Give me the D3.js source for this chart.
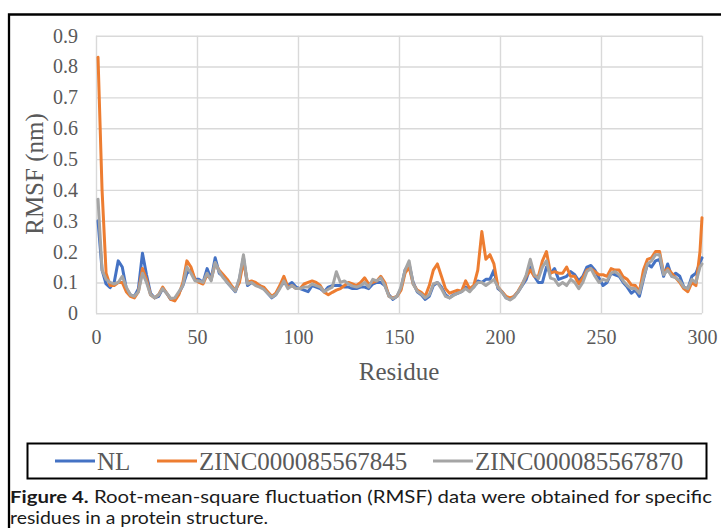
<!DOCTYPE html>
<html>
<head>
<meta charset="utf-8">
<script src="https://cdn.jsdelivr.net/npm/d3@7"></script>
<style>
  html, body { margin: 0; padding: 0; background: #fff; }
  svg { display: block; }
</style>
</head>
<body>
<svg id="chart" width="721" height="528"></svg>
<script>
// ---- data ----
const seriesNames = ["NL", "ZINC000085567845", "ZINC000085567870"];
const seriesColors = ["#4472C4", "#ED7D31", "#A5A5A5"];
const residues = d3.range(1, 300, 2).concat([300]);

const nl = [
  0.30,0.14,0.095,0.083,0.10,0.17,0.15,0.08,0.06,0.055,0.08,0.195,0.125,0.065,0.05,0.055,0.08,0.065,0.045,0.045,0.065,0.09,0.13,0.14,0.11,
  0.11,0.10,0.145,0.11,0.18,0.13,0.12,0.10,0.085,0.07,0.11,0.18,0.09,0.10,0.095,0.09,0.08,0.065,0.05,0.06,0.085,0.10,0.09,0.10,0.085,
  0.08,0.075,0.07,0.09,0.085,0.08,0.07,0.085,0.09,0.09,0.09,0.085,0.085,0.08,0.08,0.085,0.085,0.08,0.095,0.10,0.10,0.09,0.06,0.045,0.055,
  0.08,0.14,0.16,0.10,0.07,0.06,0.045,0.055,0.09,0.10,0.085,0.06,0.05,0.06,0.065,0.07,0.085,0.075,0.085,0.105,0.10,0.11,0.11,0.14,0.08,
  0.07,0.05,0.045,0.055,0.07,0.09,0.11,0.15,0.12,0.10,0.10,0.15,0.13,0.145,0.11,0.115,0.12,0.135,0.125,0.105,0.12,0.15,0.155,0.14,0.115,
  0.09,0.10,0.13,0.125,0.12,0.10,0.085,0.065,0.075,0.055,0.11,0.16,0.15,0.17,0.175,0.12,0.16,0.12,0.13,0.12,0.085,0.08,0.12,0.13,0.165,
  0.18
];
const zinc845 = [
  0.83,0.40,0.13,0.09,0.09,0.10,0.10,0.07,0.055,0.05,0.07,0.145,0.11,0.06,0.05,0.06,0.085,0.065,0.045,0.04,0.06,0.10,0.17,0.15,0.11,
  0.10,0.095,0.125,0.11,0.16,0.14,0.125,0.11,0.09,0.075,0.10,0.17,0.10,0.105,0.10,0.09,0.085,0.07,0.055,0.065,0.09,0.12,0.085,0.09,0.08,
  0.08,0.095,0.10,0.105,0.10,0.09,0.068,0.06,0.068,0.075,0.08,0.09,0.10,0.095,0.09,0.10,0.115,0.095,0.10,0.105,0.12,0.10,0.055,0.05,0.055,
  0.075,0.13,0.15,0.095,0.075,0.068,0.055,0.09,0.14,0.16,0.12,0.08,0.065,0.07,0.075,0.072,0.105,0.08,0.09,0.14,0.265,0.175,0.19,0.16,0.085,
  0.07,0.055,0.05,0.055,0.072,0.095,0.12,0.14,0.12,0.12,0.17,0.20,0.13,0.135,0.13,0.13,0.15,0.12,0.12,0.095,0.115,0.14,0.145,0.135,0.125,
  0.125,0.12,0.145,0.14,0.14,0.118,0.11,0.092,0.09,0.07,0.14,0.175,0.18,0.20,0.20,0.13,0.145,0.13,0.115,0.10,0.08,0.07,0.10,0.09,0.20,
  0.31
];
const zinc870 = [
  0.37,0.14,0.11,0.10,0.095,0.10,0.12,0.085,0.06,0.055,0.07,0.13,0.10,0.06,0.05,0.06,0.08,0.065,0.048,0.05,0.07,0.09,0.15,0.13,0.105,
  0.105,0.10,0.13,0.105,0.165,0.135,0.115,0.10,0.085,0.072,0.115,0.19,0.095,0.10,0.09,0.085,0.078,0.065,0.052,0.06,0.08,0.105,0.08,0.09,0.08,
  0.08,0.085,0.085,0.095,0.09,0.085,0.07,0.078,0.085,0.135,0.10,0.105,0.095,0.088,0.085,0.09,0.10,0.085,0.11,0.105,0.115,0.09,0.055,0.048,0.055,
  0.085,0.14,0.17,0.095,0.072,0.062,0.05,0.06,0.095,0.10,0.08,0.055,0.05,0.058,0.065,0.07,0.08,0.07,0.085,0.10,0.10,0.09,0.10,0.11,0.085,
  0.068,0.05,0.043,0.052,0.07,0.092,0.125,0.175,0.125,0.112,0.15,0.17,0.114,0.11,0.09,0.10,0.09,0.11,0.10,0.08,0.10,0.135,0.145,0.12,0.10,
  0.11,0.105,0.13,0.135,0.125,0.105,0.09,0.08,0.08,0.065,0.115,0.16,0.17,0.19,0.19,0.125,0.14,0.12,0.115,0.105,0.085,0.08,0.11,0.10,0.15,
  0.16
];
const xTicks = [0, 50, 100, 150, 200, 250, 300];
const yTicks = [0, 0.1, 0.2, 0.3, 0.4, 0.5, 0.6, 0.7, 0.8, 0.9];
const xTitle = "Residue";
const yTitle = "RMSF (nm)";
const captionBold = "Figure 4.";
const captionLine1 = " Root-mean-square fluctuation (RMSF) data were obtained for specific";
const captionLine2 = "residues in a protein structure.";

// ---- drawing ----
const svg = d3.select("#chart");
const serif = "'Liberation Serif', 'Times New Roman', serif";
const sans = "'Lato', 'Noto Sans', sans-serif";

// outer frame (open at right/bottom like the cropped figure)
svg.append("path")
  .attr("d", "M9,528 L9,14.5 L721,14.5")
  .attr("fill", "none").attr("stroke", "#000").attr("stroke-width", 2.3);

const x = d3.scaleLinear().domain([0, 300]).range([96, 702]);
const y = d3.scaleLinear().domain([0, 0.9]).range([313.3, 35.7]);

// gridlines + tick labels via axes
const gy = svg.append("g").attr("transform", `translate(${x(0)},0)`)
  .call(d3.axisLeft(y).tickValues(yTicks)
    .tickSize(-(x(300) - x(0))).tickPadding(18)
    .tickFormat(d => d === 0 ? "0" : d3.format(".1f")(d)));
const gx = svg.append("g").attr("transform", `translate(0,${y(0)})`)
  .call(d3.axisBottom(x).tickValues(xTicks)
    .tickSize(-(y(0) - y(0.9))).tickPadding(17)
    .tickFormat(d3.format("d")));
[gy, gx].forEach(g => {
  g.select(".domain").remove();
  g.selectAll(".tick line").attr("stroke", "#d9d9d9").attr("stroke-width", 1.4);
  g.selectAll(".tick text").attr("fill", "#595959")
    .style("font-family", serif).style("font-size", "20px");
});

// series lines
const allSeries = [nl, zinc845, zinc870];
const line = d3.line()
  .x((d, i) => x(residues[i]))
  .y(d => y(d));
allSeries.forEach((vals, k) => {
  svg.append("path")
    .datum(vals)
    .attr("fill", "none")
    .attr("stroke", seriesColors[k])
    .attr("stroke-width", 3)
    .attr("stroke-linejoin", "round")
    .attr("stroke-linecap", "round")
    .attr("d", line);
});

// axis titles
svg.append("text")
  .attr("transform", `translate(43,174) rotate(-90)`)
  .attr("text-anchor", "middle")
  .attr("fill", "#595959")
  .style("font-family", serif).style("font-size", "25px")
  .text(yTitle);
svg.append("text")
  .attr("x", 399).attr("y", 380)
  .attr("text-anchor", "middle")
  .attr("fill", "#595959")
  .style("font-family", serif).style("font-size", "25px")
  .text(xTitle);

// legend
const lg = svg.append("g");
lg.append("rect")
  .attr("x", 27.5).attr("y", 443.5).attr("width", 679).attr("height", 35)
  .attr("fill", "#fff").attr("stroke", "#000").attr("stroke-width", 2);
const legendX = [55, 157, 433];
seriesNames.forEach((name, k) => {
  lg.append("line")
    .attr("x1", legendX[k]).attr("x2", legendX[k] + 40)
    .attr("y1", 461).attr("y2", 461)
    .attr("stroke", seriesColors[k]).attr("stroke-width", 3);
  lg.append("text")
    .attr("x", legendX[k] + 42).attr("y", 469.5)
    .attr("fill", "#595959")
    .style("font-family", serif).style("font-size", "25px")
    .text(name);
});

// caption
const cap1 = svg.append("text")
  .attr("x", 10).attr("y", 503)
  .attr("fill", "#1a1a1a")
  .style("font-family", sans).style("font-size", "17px");
cap1.append("tspan").style("font-weight", "bold").text(captionBold);
cap1.append("tspan").text(captionLine1);
cap1.attr("textLength", 702).attr("lengthAdjust", "spacingAndGlyphs");
svg.append("text")
  .attr("x", 10).attr("y", 524)
  .attr("fill", "#1a1a1a")
  .style("font-family", sans).style("font-size", "17px")
  .attr("textLength", 258).attr("lengthAdjust", "spacingAndGlyphs")
  .text(captionLine2);
</script>
</body>
</html>
